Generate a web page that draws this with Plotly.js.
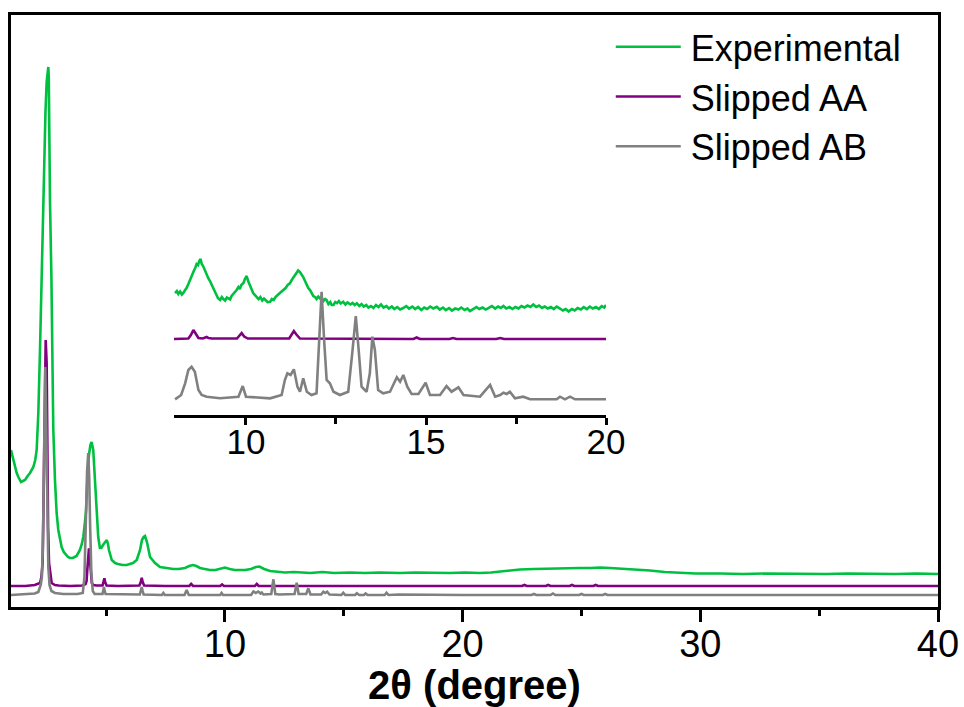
<!DOCTYPE html>
<html>
<head>
<meta charset="utf-8">
<script src="https://cdn.plot.ly/plotly-3.0.1.min.js"></script>
<style>html,body{margin:0;padding:0;background:#fff;}#chart{width:964px;height:707px;}</style>
</head>
<body>
<div id="chart"></div>
<script>
// ---- Main panel data (2θ in degrees, intensity in arbitrary units, offset curves) ----
const expX = [1.00,1.08,1.17,1.24,1.31,1.42,1.50,1.59,1.70,1.80,1.94,2.02,2.08,2.15,2.22,2.30,2.36,2.39,2.45,2.50,2.54,2.57,2.59,2.61,2.64,2.70,2.75,2.78,2.85,2.92,2.99,3.06,3.13,3.22,3.31,3.40,3.48,3.60,3.76,3.90,3.98,4.04,4.10,4.16,4.21,4.28,4.34,4.39,4.46,4.53,4.61,4.67,4.74,4.80,4.87,4.95,5.03,5.08,5.12,5.24,5.38,5.50,5.70,5.87,6.00,6.13,6.29,6.43,6.51,6.58,6.64,6.72,6.85,7.06,7.27,7.50,7.82,8.05,8.32,8.50,8.66,8.80,8.95,9.15,9.37,9.60,9.80,10.00,10.20,10.42,10.62,10.84,11.10,11.30,11.45,11.65,11.90,12.20,12.53,12.90,13.16,13.60,14.10,14.60,15.26,15.90,16.50,17.37,18.00,18.70,19.47,20.10,20.73,21.20,21.57,22.00,22.41,23.00,23.68,24.30,24.94,25.40,25.78,26.20,26.62,27.20,27.88,28.50,29.14,29.80,30.83,31.80,32.80,34.19,35.30,36.20,37.14,38.20,39.10,40.00];
const expY = [157,149,140,134,130,125,126,127,131,134,140,147,157,194,257,340,407,447,495,525,538,540,530,447,407,330,257,177,127,94,77,67,60,55,52,50,49,49,51,57,63,70,82,97,127,152,162,165,157,127,92,70,59,59,62,65,67,63,57,47,44,43,42,42,43,44,47,57,67,70,71,65,50,44,40,39,38,38,39,41,42,41,39,38,37,37,38,39.5,38,37,37,37,38,40,40.5,38,36,35,34.5,35,34.5,34,35,34,34.5,34,34.5,34,34.5,34,34,34.5,34,34.5,35.5,36.5,37.5,38,38.5,38.5,39,39,39.5,39,38.5,37.5,36.5,35,34,33.5,33.5,33,33.5,33,33,33.5,33,33,33.5,33];

const aaX = [1.00,1.60,2.00,2.15,2.22,2.28,2.33,2.36,2.39,2.43,2.46,2.50,2.53,2.56,2.60,2.66,2.71,2.85,3.00,3.50,4.00,4.14,4.18,4.21,4.25,4.28,4.31,4.35,4.40,4.46,4.60,4.85,4.90,4.93,4.96,5.02,5.50,6.40,6.46,6.50,6.54,6.60,7.50,8.50,8.58,8.66,9.80,9.88,9.96,11.26,11.34,11.42,14.00,20.00,22.50,22.60,22.70,23.50,23.60,23.70,24.50,24.60,24.70,25.50,25.60,25.70,26.50,30.00,40.00];
const aaY = [21,21,22,23,24,30,44,90,144,244,267,244,144,80,44,30,24,22,21.5,21,21.5,23,26,37,50,58.7,50,37,24,22,21.5,21.5,25,28.7,25,21.5,21,21.5,25,29.3,25,21.5,21,21,23,21,21,22.5,21,21,23,21,21,21,21,22,21,21,22,21,21,22,21,21,22,21,21,21,21];

const abX = [1.00,1.60,2.00,2.15,2.25,2.30,2.34,2.37,2.40,2.42,2.44,2.47,2.50,2.53,2.57,2.62,2.70,2.85,3.20,3.80,4.02,4.09,4.14,4.20,4.25,4.29,4.33,4.38,4.44,4.52,4.85,4.88,4.91,4.94,4.98,6.42,6.46,6.50,6.54,6.58,7.35,7.41,7.47,8.30,8.39,8.48,9.80,9.86,9.92,11.10,11.20,11.30,11.40,11.50,11.55,11.62,11.95,12.04,12.12,12.30,12.93,13.02,13.10,13.42,13.51,13.60,14.05,14.14,14.22,14.30,14.40,14.90,14.98,15.06,15.48,15.55,15.65,15.85,15.92,16.00,16.72,16.80,16.88,17.30,20.00,22.90,23.00,23.10,23.70,23.80,23.90,24.90,25.00,25.10,25.90,26.00,26.10,26.70,26.80,26.90,30.00,40.00];
const abY = [12,12.5,13.5,15,22,30,60,110,180,230,240,200,140,80,40,22,16,14,13,13,14,30,80,135,154,130,80,35,16,13,13,16,20,16,13,12.5,16,20,16,12.5,12,14,12,12,17,12,12,14,12,12,15.5,14,15.5,13.5,14.5,12.5,13,27.7,13,12.5,13,24.3,13,13,18.7,12.5,12.5,15.3,14,15.3,12.5,12,14.3,12,12,13.7,12,12,13.5,12,12,14.3,12,12.5,12,12,13,12,12,13.5,12,12,13,12,12,13,12,12,12.5,12,12,12];

// ---- Inset data (8–20°, enlarged) ----
const inExpX = [8.03,8.08,8.12,8.17,8.22,8.26,8.31,8.35,8.40,8.44,8.49,8.55,8.59,8.63,8.67,8.70,8.74,8.77,8.81,8.86,8.90,8.95,9.00,9.05,9.09,9.13,9.18,9.22,9.28,9.33,9.37,9.42,9.47,9.52,9.56,9.60,9.65,9.70,9.74,9.79,9.83,9.87,9.93,9.97,10.02,10.06,10.11,10.15,10.20,10.25,10.30,10.35,10.40,10.45,10.50,10.55,10.60,10.67,10.72,10.77,10.82,10.88,10.94,11.00,11.05,11.10,11.16,11.22,11.27,11.32,11.36,11.41,11.45,11.50,11.54,11.59,11.64,11.68,11.73,11.78,11.83,11.87,11.92,11.96,12.01,12.06,12.10,12.15,12.20,12.24,12.29,12.34,12.38,12.43,12.48,12.53,12.58,12.63,12.70,12.76,12.82,12.90,12.96,13.02,13.08,13.15,13.21,13.27,13.34,13.40,13.47,13.54,13.61,13.68,13.75,13.82,13.90,13.97,14.05,14.12,14.20,14.28,14.37,14.45,14.53,14.62,14.70,14.78,14.87,14.95,15.03,15.12,15.20,15.30,15.38,15.47,15.55,15.64,15.72,15.81,15.90,15.98,16.07,16.15,16.22,16.31,16.40,16.48,16.57,16.66,16.75,16.83,16.92,17.00,17.08,17.15,17.23,17.32,17.40,17.48,17.57,17.65,17.73,17.82,17.90,17.98,18.06,18.14,18.22,18.30,18.38,18.47,18.55,18.63,18.72,18.80,18.88,18.96,19.05,19.13,19.21,19.30,19.38,19.47,19.55,19.63,19.72,19.80,19.88,19.95,20.00];
const inExpY = [122,124,121,123.5,120.5,122,125,127,131,135,139,144,147,151,150,154,156,151,149,144,141,137,134,130,128,124,120,117,115,118,116,114.5,117.5,116,115.7,119,121,123,125,128,126,130,132,136,139,134,129,125,122,120,118,116,118,114.5,116.5,115,113,113.3,116,115,118,120,121.7,123.5,125,127,130,131.7,135,138,140,142,144.5,143,141,138,134,131,127,125,121,119,118,116,118.5,116.5,117.5,114,116,115,111,113,110,110,113,112,114,111.5,113.3,110.5,112.5,110.5,112,110,111.7,109,111,108.5,110,107.5,109,107,110,108,110.5,107.5,109,106.5,108.5,106,108,105.5,107,109,106.5,108.5,106,108,105,107.5,106,108.5,106.5,108.3,105.5,107.5,105,107,104.5,106.5,105.5,107.5,105,106.5,104,106,108,106,107.5,105.5,107,109,106.5,108.5,107,109,106.5,108,106,108,106.5,109,107.5,109.5,108,110.5,108,109.5,107,108.5,106.5,108,106,108.5,106.5,104.5,106,103.5,106,104.5,107,105.5,108,106,108.5,106.5,108,106,109,107.5,110];

const inAAX = [8.00,8.40,8.47,8.54,8.61,8.68,8.80,8.86,8.91,8.96,9.05,9.75,9.82,9.88,9.95,10.05,11.20,11.27,11.33,11.40,11.50,14.65,14.74,14.83,15.65,15.75,15.85,16.95,17.06,17.17,20.00];
const inAAY = [76,76.5,80,85,81,77,76.5,77.5,78,77,76.5,76.5,79,82,78.5,76.5,76.5,80,84,80.5,76.5,76,77.5,76,76,77,76,76,77,76,76];

const inABX = [8.03,8.20,8.31,8.40,8.49,8.58,8.68,8.77,8.91,9.28,9.79,9.91,10.00,10.20,10.67,10.99,11.08,11.15,11.24,11.33,11.43,11.50,11.59,11.69,11.82,11.96,12.04,12.10,12.17,12.24,12.33,12.43,12.61,12.84,12.96,13.05,13.13,13.21,13.35,13.44,13.51,13.58,13.67,13.81,14.00,14.19,14.28,14.37,14.48,14.60,14.79,14.99,15.11,15.39,15.57,15.71,15.90,16.04,16.50,16.78,16.92,17.06,17.15,17.24,17.33,17.47,17.70,17.89,18.63,18.72,18.86,19.00,19.14,19.93,20.00];
const inABY = [15.7,20,31.7,45,48.3,43.3,25,20,18.3,16.7,18.3,29,18.3,17.7,16.7,20,35,41.7,40,45.7,28.3,23.3,36.7,23.3,20,21.7,75,123.3,75,35,31.7,23.3,20,23.3,65,99,65,28.3,23.3,41.7,78.3,65,25,21.7,23.3,37.7,33.3,40,28.3,21,21,32.3,20,20,29,23.3,27.7,20,18.3,30,18.3,20,22.3,21,23.3,16.7,18.3,15.7,15.7,18.3,15.7,18.3,15.7,15.7,15.7];

const seriesNames = ['Experimental','Slipped AA','Slipped AB'];
const seriesColors = ['#00c040','#800080','#808080'];
const xTitle = '2θ (degree)';

const FONT = 'Liberation Sans, Arial, sans-serif';
const lw = 2.6;

const traces = [
  {x: expX, y: expY, name: seriesNames[0], type:'scatter', mode:'lines', line:{color:seriesColors[0], width:lw}},
  {x: aaX, y: aaY, name: seriesNames[1], type:'scatter', mode:'lines', line:{color:seriesColors[1], width:lw}},
  {x: abX, y: abY, name: seriesNames[2], type:'scatter', mode:'lines', line:{color:seriesColors[2], width:lw}},
  {x: inExpX, y: inExpY, xaxis:'x2', yaxis:'y2', showlegend:false, type:'scatter', mode:'lines', line:{color:seriesColors[0], width:lw}},
  {x: inAAX, y: inAAY, xaxis:'x2', yaxis:'y2', showlegend:false, type:'scatter', mode:'lines', line:{color:seriesColors[1], width:lw}},
  {x: inABX, y: inABY, xaxis:'x2', yaxis:'y2', showlegend:false, type:'scatter', mode:'lines', line:{color:seriesColors[2], width:lw}}
];

const layout = {
  width: 964, height: 707,
  margin: {l: 11, r: 26, t: 15, b: 100},
  paper_bgcolor: '#fff', plot_bgcolor: '#fff',
  font: {family: FONT, color: '#000'},
  showlegend: true,
  legend: {x: 0.647, y: 0.997, xanchor: 'left', yanchor: 'top', bgcolor: 'rgba(0,0,0,0)',
           itemwidth: 70, font: {size: 36, family: FONT, color: '#000'}, tracegroupgap: 0},
  xaxis: {
    range: [1, 40], showgrid: false, zeroline: false,
    showline: true, linecolor: '#000', linewidth: 3, mirror: true,
    ticks: 'outside', ticklen: 12, tickwidth: 3, tickcolor: '#000',
    tick0: 0, dtick: 10, ticklabelstandoff: -11,
    minor: {ticks: 'outside', ticklen: 6, tickwidth: 3, tickcolor: '#000', dtick: 5, tick0: 0, showgrid: false},
    tickfont: {size: 38, family: FONT, color: '#000'},
    title: {text: xTitle, font: {size: 40, family: FONT, color: '#000', weight: 'bold'}, standoff: 5}
  },
  yaxis: {
    range: [0, 592], showgrid: false, zeroline: false,
    showline: true, linecolor: '#000', linewidth: 3, mirror: true,
    ticks: '', showticklabels: false
  },
  xaxis2: {
    domain: [0.1758, 0.6419], anchor: 'y2', range: [8, 20],
    showgrid: false, zeroline: false, showline: true, linecolor: '#000', linewidth: 3,
    ticks: 'outside', ticklen: 7, tickwidth: 3, tickcolor: '#000', tick0: 0, dtick: 5,
    ticklabelstandoff: -13,
    minor: {ticks: 'outside', ticklen: 6, tickwidth: 3, tickcolor: '#000', dtick: 2.5, tick0: 0, showgrid: false},
    tickfont: {size: 35, family: FONT, color: '#000'}
  },
  yaxis2: {
    domain: [0.3243, 0.6030], anchor: 'x2', range: [0, 165], visible: false
  }
};

Plotly.newPlot('chart', traces, layout, {staticPlot: true, displayModeBar: false}).then(function (gd) {
  // longer legend line samples, as in the original figure
  gd.querySelectorAll('.legendlines path').forEach(function (p) { p.setAttribute('d', 'M5,0h65'); });
});
</script>
</body>
</html>
